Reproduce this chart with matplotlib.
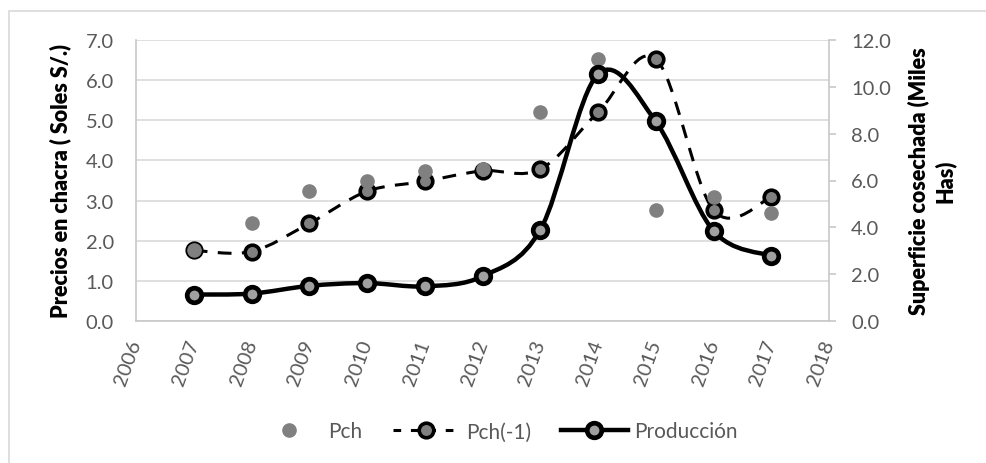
import matplotlib
matplotlib.use("Agg")
import matplotlib.pyplot as plt
from matplotlib.path import Path
from matplotlib.patches import PathPatch, Rectangle
from matplotlib.lines import Line2D

years = [2007, 2008, 2009, 2010, 2011, 2012, 2013, 2014, 2015, 2016, 2017]
pch = [1.76, 2.43, 3.23, 3.48, 3.74, 3.78, 5.20, 6.53, 2.76, 3.08, 2.70]
pch_lag = [1.76, 1.73, 2.43, 3.23, 3.48, 3.74, 3.78, 5.20, 6.53, 2.76, 3.08]
produccion = [1.13, 1.17, 1.50, 1.62, 1.48, 1.91, 3.89, 10.54, 8.52, 3.85, 2.78]

left_ticks = [0, 1, 2, 3, 4, 5, 6, 7]
right_ticks = [0, 2, 4, 6, 8, 10, 12]
x_ticks = list(range(2006, 2019))

plt.rcParams['font.family'] = ['Lato', 'DejaVu Sans']

TICK_COLOR = '#595959'
GRID_COLOR = '#d9d9d9'


def smooth_path(xs, ys):
    """Excel-like smoothed line: Catmull-Rom converted to cubic Bezier."""
    pts = list(zip(xs, ys))
    verts = [pts[0]]
    codes = [Path.MOVETO]
    n = len(pts)
    for i in range(n - 1):
        p0 = pts[i - 1] if i > 0 else pts[i]
        p1 = pts[i]
        p2 = pts[i + 1]
        p3 = pts[i + 2] if i + 2 < n else pts[i + 1]
        c1 = (p1[0] + (p2[0] - p0[0]) / 6.0, p1[1] + (p2[1] - p0[1]) / 6.0)
        c2 = (p2[0] - (p3[0] - p1[0]) / 6.0, p2[1] - (p3[1] - p1[1]) / 6.0)
        verts += [c1, c2, p2]
        codes += [Path.CURVE4] * 3
    return Path(verts, codes)


fig = plt.figure(figsize=(9.87, 4.64), dpi=100)
ax = fig.add_axes([136 / 987, 1 - 322 / 464, (829 - 136) / 987, (322 - 41) / 464])
ax2 = ax.twinx()

# chart area border (top and left visible)
fig.patches.append(Rectangle((9 / 987, -0.1), 1.2, 1 - 12 / 464 + 0.1,
                             transform=fig.transFigure, fill=False,
                             edgecolor=GRID_COLOR, linewidth=1.2, zorder=0))

ax.set_xlim(2006, 2018)
ax.set_ylim(0, 7)
ax2.set_ylim(0, 12)

ax.set_yticks(left_ticks)
ax.set_yticklabels([f"{v:.1f}" for v in left_ticks])
ax2.set_yticks(right_ticks)
ax2.set_yticklabels([f"{v:.1f}" for v in right_ticks])
ax.set_xticks(x_ticks)
ax.set_xticklabels([str(v) for v in x_ticks], rotation=70, ha='right',
                   va='center', rotation_mode='anchor')

ax.grid(axis='y', color=GRID_COLOR, linewidth=1.2)
ax.set_axisbelow(True)

for a in (ax, ax2):
    for s in a.spines.values():
        s.set_visible(False)
ax.spines['left'].set_visible(True)
ax.spines['bottom'].set_visible(True)
ax2.spines['right'].set_visible(True)
for s in (ax.spines['left'], ax.spines['bottom'], ax2.spines['right']):
    s.set_color('#c8c8c8')
    s.set_linewidth(1.2)

ax.tick_params(axis='y', length=0, pad=16, labelsize=14.5, labelcolor=TICK_COLOR)
ax.tick_params(axis='x', length=0, pad=14, labelsize=14.5, labelcolor=TICK_COLOR)
ax2.tick_params(axis='y', length=5, width=1.2, color='#c8c8c8', pad=11,
                labelsize=14.5, labelcolor=TICK_COLOR)

ax.set_ylabel("Precios en chacra ( Soles S/.)", fontsize=15.5, fontweight='heavy',
              labelpad=10)
ax2.set_ylabel("Superficie cosechada (Miles\nHas)", fontsize=15.5, fontweight='heavy',
               rotation=90, labelpad=12, linespacing=1.25)

# Pch(-1): dashed smooth line on left axis
dash_patch = PathPatch(smooth_path(years, pch_lag), facecolor='none',
                       edgecolor='black', linewidth=2.2, zorder=3)
dash_patch.set_linestyle((0, (4.5, 3.4)))
ax.add_patch(dash_patch)
ax.plot(years, pch_lag, linestyle='none', marker='o', markersize=10.5,
        markerfacecolor='#808080', markeredgecolor='black', markeredgewidth=2.6,
        zorder=4)

# Pch: gray dots
ax.plot(years, pch, linestyle='none', marker='o', markersize=9.5,
        markerfacecolor='#808080', markeredgecolor='#808080', zorder=5)

# Producción: solid smooth line on right axis
ax2.add_patch(PathPatch(smooth_path(years, produccion), facecolor='none',
                        edgecolor='black', linewidth=3.2, zorder=3))
ax2.plot(years, produccion, linestyle='none', marker='o', markersize=10.5,
         markerfacecolor='#a0a0a0', markeredgecolor='black', markeredgewidth=3.4,
         zorder=4)

handles = [
    Line2D([], [], linestyle='none', marker='o', markersize=9.5,
           markerfacecolor='#808080', markeredgecolor='#808080'),
    Line2D([], [], color='black', linewidth=2.2, linestyle=(0, (2.5, 3.2)),
           marker='o', markersize=10.5, markerfacecolor='#808080',
           markeredgecolor='black', markeredgewidth=2.6),
    Line2D([], [], color='black', linewidth=3.2, marker='o', markersize=10.5,
           markerfacecolor='#a0a0a0', markeredgecolor='black', markeredgewidth=3.4),
]
labels = ["Pch", "Pch(-1)", "Producción"]
leg = fig.legend(handles, labels, loc='center', bbox_to_anchor=(0.503, 0.068),
                 ncol=3, frameon=False, fontsize=15, handlelength=3.2,
                 handletextpad=0.3, columnspacing=1.45)
for t in leg.get_texts():
    t.set_color(TICK_COLOR)

fig.savefig("out.png", dpi=100, facecolor='white')
